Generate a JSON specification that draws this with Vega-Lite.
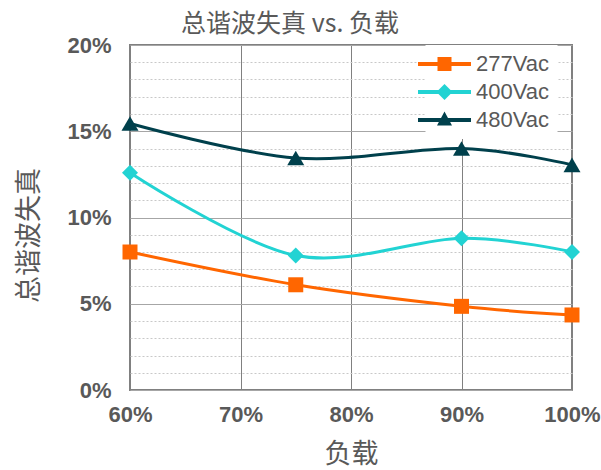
{
  "$schema": "https://vega.github.io/schema/vega-lite/v6.json",
  "width": 442,
  "height": 345,
  "autosize": {"type": "none"},
  "padding": {"left": 130, "top": 45, "right": 29, "bottom": 80},
  "background": "white",
  "config": {"view": {"stroke": "#808080", "strokeWidth": 2}, "font": "Liberation Sans"},
  "title": {"text": "总谐波失真 vs. 负载", "font": "Noto Sans CJK SC", "fontSize": 25, "fontWeight": "normal", "color": "#595959", "anchor": "middle", "frame": "group", "dx": -61, "dy": 26, "baseline": "alphabetic", "offset": 3},
  "data": {"values": [
    {"load": 60, "thd": 8.0, "series": "277Vac"},
    {"load": 75, "thd": 6.1, "series": "277Vac"},
    {"load": 90, "thd": 4.85, "series": "277Vac"},
    {"load": 100, "thd": 4.35, "series": "277Vac"},
    {"load": 60, "thd": 12.6, "series": "400Vac"},
    {"load": 75, "thd": 7.8, "series": "400Vac"},
    {"load": 90, "thd": 8.8, "series": "400Vac"},
    {"load": 100, "thd": 8.0, "series": "400Vac"},
    {"load": 60, "thd": 15.45, "series": "480Vac"},
    {"load": 75, "thd": 13.45, "series": "480Vac"},
    {"load": 90, "thd": 14.0, "series": "480Vac"},
    {"load": 100, "thd": 13.05, "series": "480Vac"}
  ]},
  "encoding": {
    "x": {"field": "load", "type": "quantitative", "scale": {"domain": [60, 100], "nice": false},
      "axis": {"values": [60, 70, 80, 90, 100], "labelExpr": "datum.value + '%'", "title": "负载", "labelFlush": false,
        "titleFont": "Noto Sans CJK SC", "titleFontSize": 27, "titleFontWeight": "normal", "titleColor": "#595959", "titlePadding": 16,
        "labelFont": "Liberation Sans", "labelFontSize": 22, "labelFontWeight": "bold", "labelColor": "#595959", "labelPadding": 14,
        "ticks": false, "domain": false, "grid": true, "gridColor": "#808080", "gridWidth": 1}},
    "y": {"field": "thd", "type": "quantitative", "scale": {"domain": [0, 20], "nice": false},
      "axis": {"values": [0,1,2,3,4,5,6,7,8,9,10,11,12,13,14,15,16,17,18,19,20], "labelFlush": false,
        "labelExpr": "datum.value % 5 === 0 ? datum.value + '%' : ''", "title": "总谐波失真", "titleY": 190,
        "titleFont": "Noto Sans CJK SC", "titleFontSize": 27, "titleFontWeight": "normal", "titleColor": "#595959", "titlePadding": 23,
        "labelFont": "Liberation Sans", "labelFontSize": 22, "labelFontWeight": "bold", "labelColor": "#595959", "labelPadding": 19,
        "ticks": false, "domain": false, "grid": true,
        "gridColor": {"condition": {"test": "datum.value % 5 === 0", "value": "#a6a6a6"}, "value": "#c8c8c8"},
        "gridDash": {"condition": {"test": "datum.value % 5 === 0", "value": []}, "value": [2, 2]},
        "gridWidth": 1}},
    "color": {"field": "series", "type": "nominal",
      "scale": {"domain": ["277Vac", "400Vac", "480Vac"], "range": ["#FF6600", "#22D3D3", "#00404C"]},
      "legend": {"orient": "none", "legendX": 295.5, "legendY": 0, "title": null,
        "labelFont": "Liberation Sans", "labelFontSize": 22, "labelColor": "#595959",
        "symbolSize": 400, "rowPadding": 6, "labelOffset": 20.5, "fillColor": "white", "padding": 8,
        "encode": {"symbols": {"update": {
          "shape": {"signal": "datum.value === '277Vac' ? 'M-2.65,-0.2H2.65V0.2H-2.65Z M-0.7,-0.7H0.7V0.7H-0.7Z' : datum.value === '400Vac' ? 'M-2.65,-0.2H2.65V0.2H-2.65Z M0,-0.8L0.8,0L0,0.8L-0.8,0Z' : 'M-2.65,-0.2H2.65V0.2H-2.65Z M0,-0.85L0.75,0.55H-0.75Z'"},
          "fill": {"signal": "datum.value === '277Vac' ? '#FF6600' : datum.value === '400Vac' ? '#22D3D3' : '#00404C'"},
          "fillOpacity": {"value": 1},
          "strokeWidth": {"value": 0}
        }}}}}
  },
  "layer": [
    {"mark": {"type": "line", "interpolate": "cardinal", "strokeWidth": 3}},
    {"transform": [{"filter": "datum.series === '277Vac'"}],
     "mark": {"type": "point", "filled": true, "opacity": 1, "size": 225, "shape": "square"}},
    {"transform": [{"filter": "datum.series === '400Vac'"}],
     "mark": {"type": "point", "filled": true, "opacity": 1, "size": 256, "shape": "diamond"}},
    {"transform": [{"filter": "datum.series === '480Vac'"}],
     "mark": {"type": "point", "filled": true, "opacity": 1, "size": 289, "shape": "triangle-up"}}
  ]
}
